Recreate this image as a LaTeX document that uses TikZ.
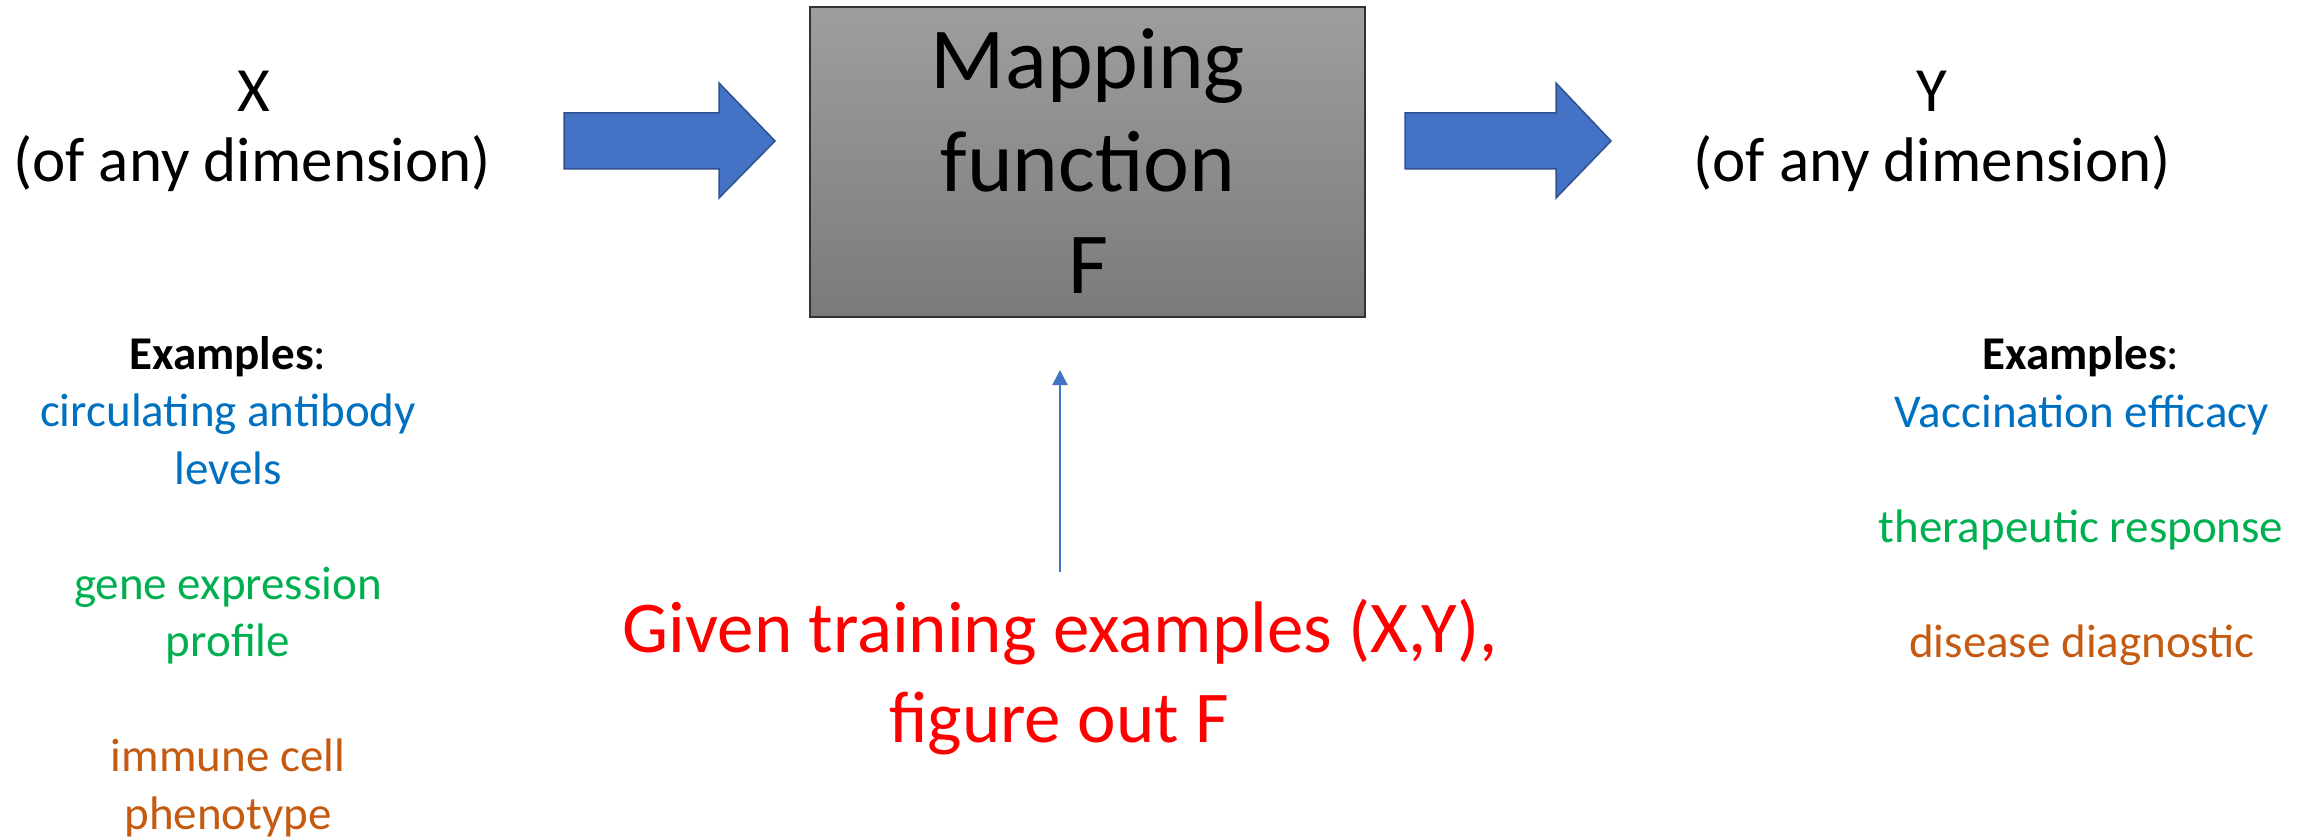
\documentclass[tikz,border=0pt]{standalone}
\usepackage{fontspec}
\setmainfont{Carlito}
\usetikzlibrary{arrows.meta}
\definecolor{exblue}{RGB}{0,112,192}
\definecolor{exgreen}{RGB}{0,176,80}
\definecolor{exorange}{RGB}{197,90,17}
\definecolor{arrfill}{RGB}{68,114,196}
\definecolor{arrdraw}{RGB}{47,82,143}
\begin{document}
\begin{tikzpicture}[x=1pt,y=-1pt,
  txt/.style={inner sep=0pt,anchor=base},
  bigtxt/.style={txt,font=\fontsize{63}{68}\selectfont},
  boxtxt/.style={txt,font=\fontsize{87}{102}\selectfont},
  extxt/.style={txt,font=\fontsize{47}{57}\selectfont},
  redtxt/.style={txt,text=red,font=\fontsize{73}{90}\selectfont},
  mapbox/.style={draw=black!80,line width=1.5pt,top color=black!38,bottom color=black!52,minimum width=555pt,minimum height=310pt,inner sep=0pt},
  blockarrow/.style={draw=arrdraw,fill=arrfill,line width=1.5pt,line join=miter},
  thinarrow/.style={draw=arrfill,line width=2pt,-{Triangle[width=15pt,length=15pt]}}]
\useasboundingbox (0,0) rectangle (2315,837);
% input X
\node[bigtxt] (x1) at (254,112) {X};
\node[bigtxt] (x2) at (252,182) {(of any dimension)};
% output Y
\node[bigtxt] (y1) at (1932,112) {Y};
\node[bigtxt] (y2) at (1932,182) {(of any dimension)};
% mapping box
\node[mapbox] (F) at (1087.5,162) {};
\node[boxtxt] (m1) at (1088,89) {Mapping};
\node[boxtxt] (m2) at (1088,192) {function};
\node[boxtxt] (m3) at (1088,293) {F};
% block arrows
\draw[blockarrow] (564,113) -- (719,113) -- (719,83) -- (775,141) -- (719,198) -- (719,169) -- (564,169) -- cycle;
\draw[blockarrow] (1405,113) -- (1556,113) -- (1556,83) -- (1611,141) -- (1556,198) -- (1556,169) -- (1405,169) -- cycle;
% left examples
\node[extxt] (lex) at (228,369) {\textbf{Examples}:};
\node[extxt,text=exblue] (l1a) at (228,426.5) {circulating antibody};
\node[extxt,text=exblue] (l1b) at (228,484) {levels};
\node[extxt,text=exgreen] (l2a) at (228,599) {gene expression};
\node[extxt,text=exgreen] (l2b) at (228,656.5) {profile};
\node[extxt,text=exorange] (l3a) at (228,771.5) {immune cell};
\node[extxt,text=exorange] (l3b) at (228,829) {phenotype};
% right examples
\node[extxt] (rex) at (2081,369) {\textbf{Examples}:};
\node[extxt,text=exblue] (r1) at (2082,427) {Vaccination efficacy};
\node[extxt,text=exgreen] (r2) at (2081,542) {therapeutic response};
\node[extxt,text=exorange] (r3) at (2082,657) {disease diagnostic};
% training text
\node[redtxt] (g1) at (1060,652) {Given training examples (X,Y),};
\node[redtxt] (g2) at (1059,742) {figure out F};
\coordinate (tstart) at (1060,572);
\coordinate (tend) at (1060,370);
\draw[thinarrow] (tstart) -- (tend);
\end{tikzpicture}
\end{document}
